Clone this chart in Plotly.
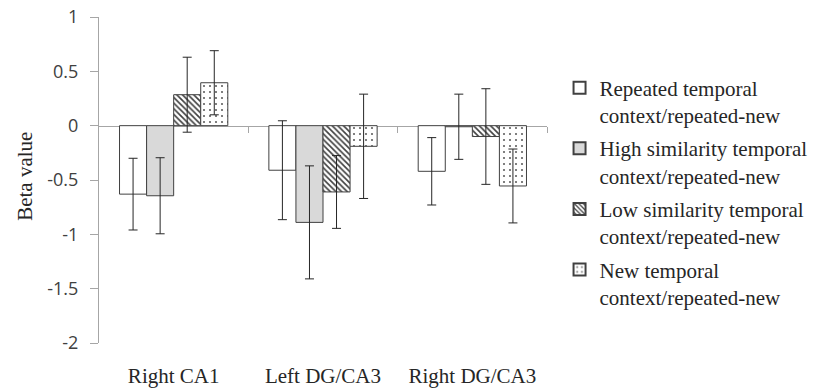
import plotly.graph_objects as go

categories = ["Right CA1", "Left DG/CA3", "Right DG/CA3"]
series_names = [
    "Repeated temporal<br>context/repeated-new",
    "High similarity temporal<br>context/repeated-new",
    "Low similarity temporal<br>context/repeated-new",
    "New temporal<br>context/repeated-new",
]
repeated = [-0.63, -0.41, -0.42]
high_sim = [-0.645, -0.89, -0.01]
low_sim = [0.285, -0.61, -0.10]
new_ctx = [0.395, -0.19, -0.555]
repeated_err = [0.33, 0.455, 0.31]
high_sim_err = [0.35, 0.52, 0.30]
low_sim_err = [0.345, 0.335, 0.44]
new_ctx_err = [0.295, 0.48, 0.34]
y_ticks = [1, 0.5, 0, -0.5, -1, -1.5, -2]
y_tick_labels = ["1", "0.5", "0", "-0.5", "-1", "-1.5", "-2"]

values = [repeated, high_sim, low_sim, new_ctx]
errors = [repeated_err, high_sim_err, low_sim_err, new_ctx_err]
styles = [
    dict(color="white"),
    dict(color="#d9d9d9"),
    dict(color="white", pattern=dict(shape="\\", fgcolor="#404040", bgcolor="white",
                                     size=4, solidity=0.4, fillmode="replace")),
    dict(color="white", pattern=dict(shape=".", fgcolor="#606060", bgcolor="white",
                                     size=6, solidity=0.1, fillmode="replace")),
]

x_pos = list(range(len(categories)))
fig = go.Figure()
for name, vals, errs, st in zip(series_names, values, errors, styles):
    fig.add_trace(go.Bar(
        x=x_pos, y=vals, name=name,
        marker=dict(line=dict(color="#404040", width=1), **st),
        error_y=dict(type="data", array=errs, visible=True, color="#262626",
                     thickness=1, width=4.5),
        legendgroup=name,
    ))

fig.update_layout(
    width=825, height=389,
    margin=dict(l=99, r=278, t=17, b=46, autoexpand=False),
    paper_bgcolor="white", plot_bgcolor="white",
    barmode="group", bargap=0.275, bargroupgap=0,
    font=dict(family="Liberation Serif", size=21, color="#262626"),
    showlegend=True,
    legend=dict(x=1.028, xanchor="left", y=0.845, yanchor="top",
                font=dict(family="Liberation Serif", size=21, color="#262626"),
                tracegroupgap=3, valign="top", itemsizing="constant",
                bgcolor="rgba(0,0,0,0)"),
    xaxis=dict(range=[-0.5, 2.5], tickmode="array", tickvals=x_pos, ticktext=categories,
               showline=False, ticks="", showgrid=False, zeroline=False,
               tickfont=dict(family="Liberation Serif", size=21, color="#262626"),
               ticklabelstandoff=18),
    xaxis2=dict(range=[-0.5, 2.5], overlaying="x", anchor="free", position=2/3,
                side="bottom", showline=True, linecolor="#a6a6a6", linewidth=1,
                tickmode="array", tickvals=[0.5, 1.5, 2.5], ticks="outside",
                ticklen=6, tickcolor="#a6a6a6", showticklabels=False,
                showgrid=False, zeroline=False, layer="below traces"),
    yaxis=dict(range=[-2, 1], tickmode="array", tickvals=y_ticks, ticktext=y_tick_labels,
               showline=True, linecolor="#a6a6a6", linewidth=1, ticks="outside",
               ticklen=8, tickcolor="#a6a6a6", showgrid=False, zeroline=False,
               tickfont=dict(family="Open Sans", size=18, color="#404040"),
               ticklabelstandoff=8, ticklabeloverflow="allow"),
)
# invisible trace to activate xaxis2
fig.add_trace(go.Scatter(x=[0.5], y=[0], xaxis="x2", mode="markers",
                         marker=dict(opacity=0), showlegend=False, hoverinfo="skip"))
fig.add_annotation(text="Beta value", xref="paper", yref="paper", x=-0.165, y=0.51,
                   xanchor="center", yanchor="middle",
                   textangle=-90, showarrow=False,
                   font=dict(family="Liberation Serif", size=21, color="#262626"))
fig.write_html("out.html", config={"displayModeBar": False},
               post_script="document.body.style.margin='0';")
